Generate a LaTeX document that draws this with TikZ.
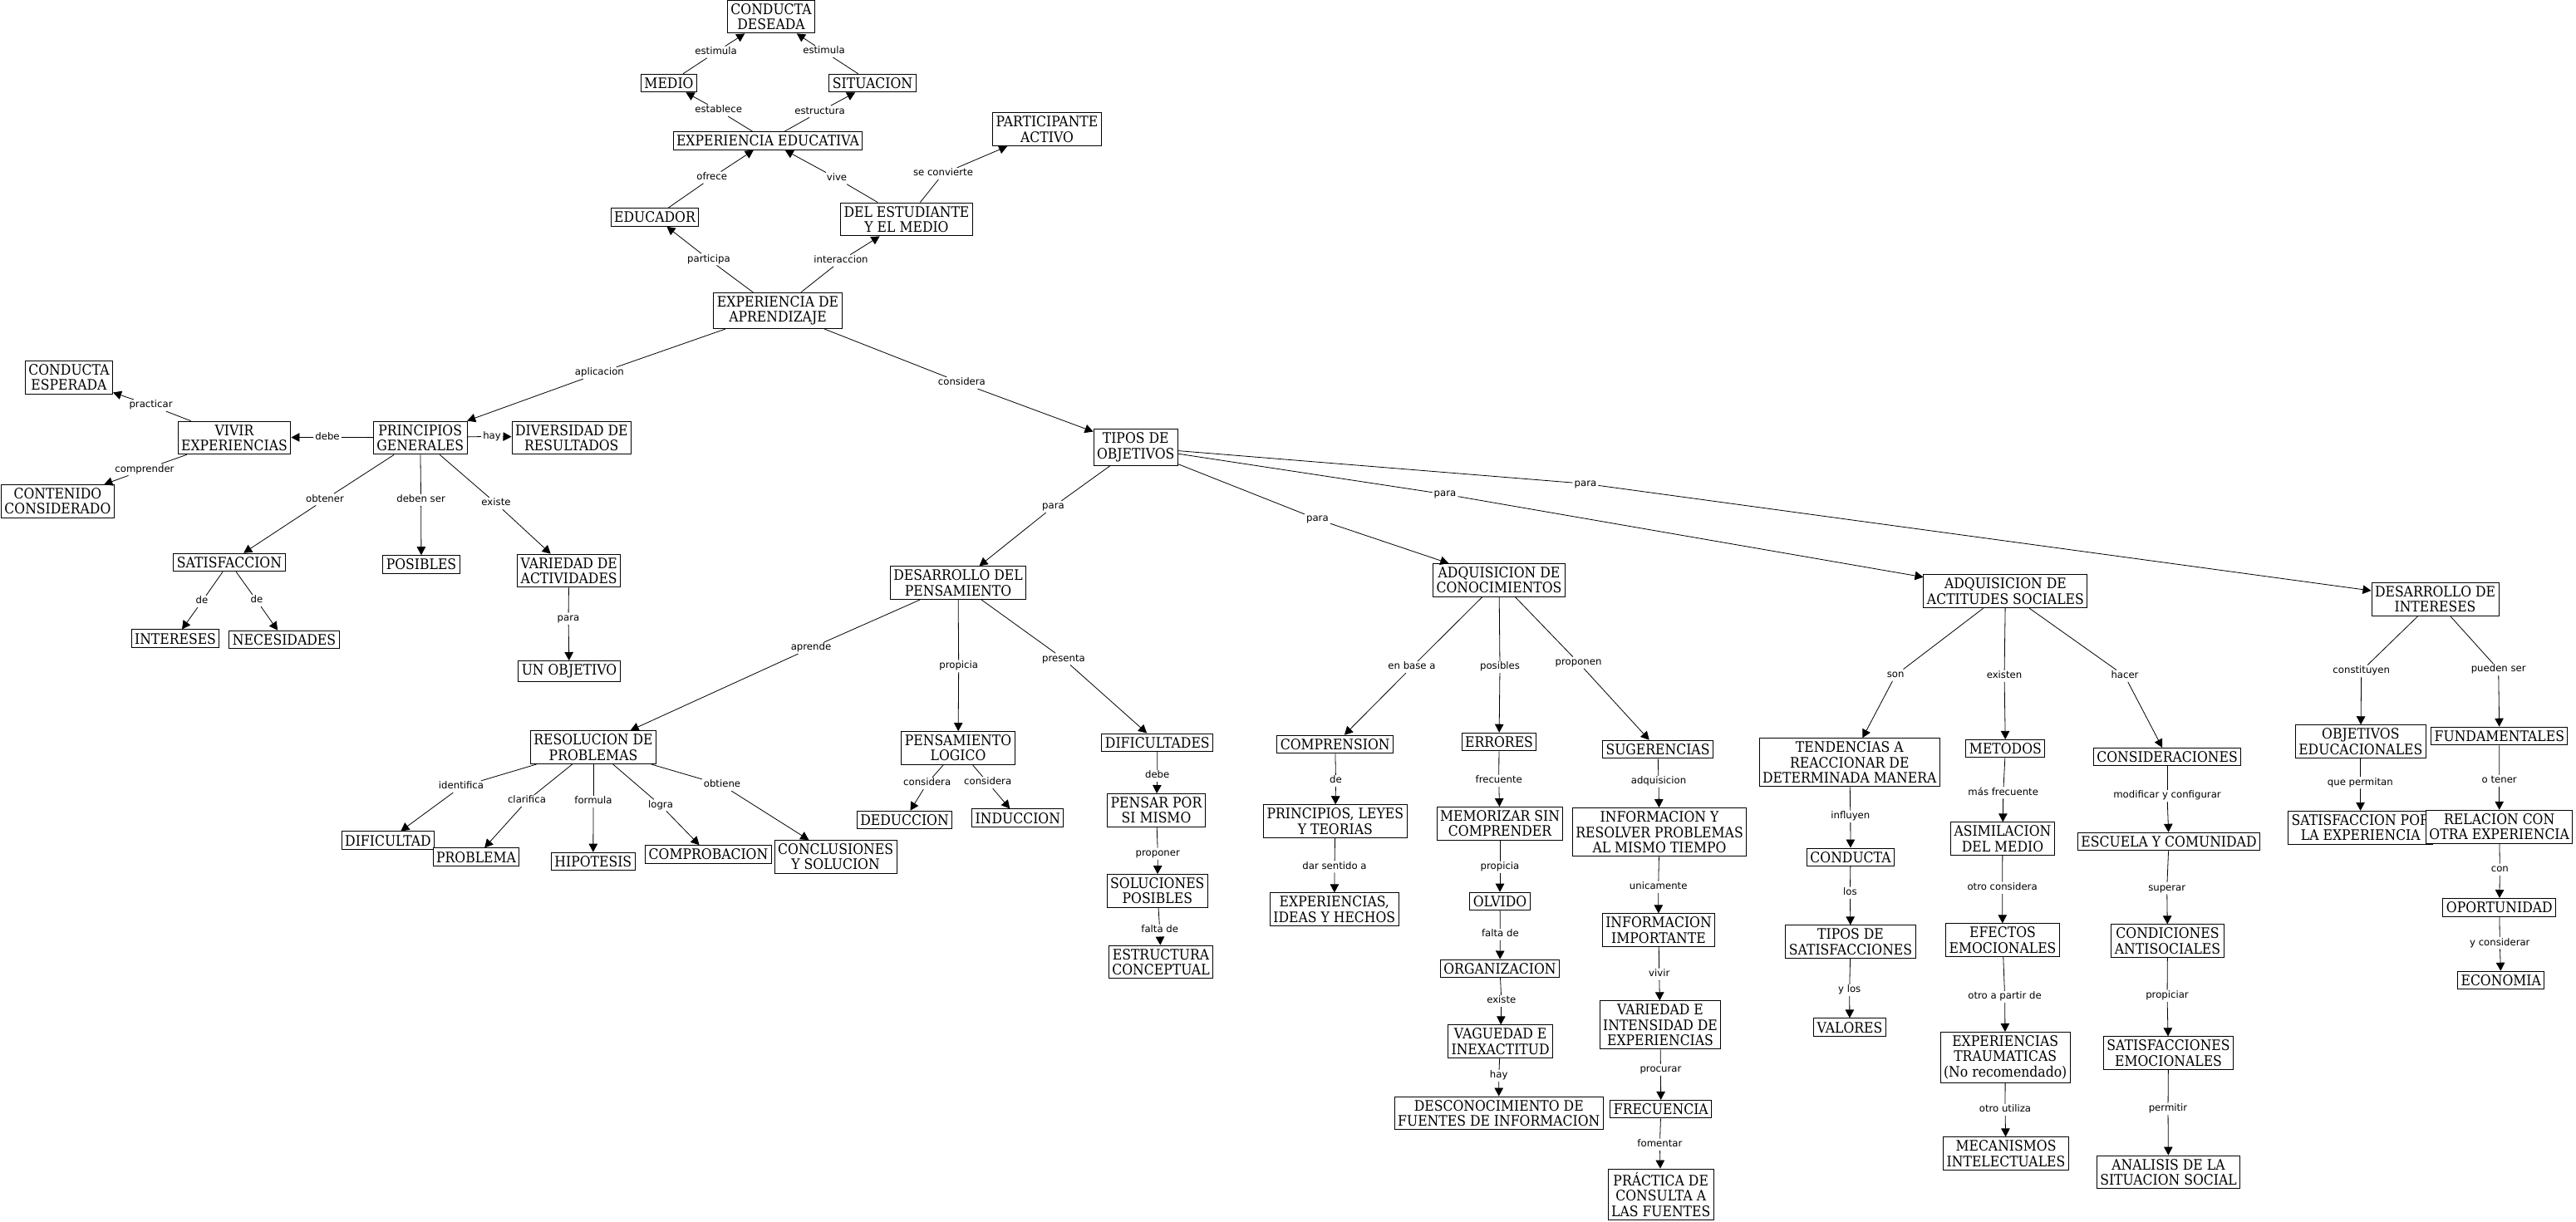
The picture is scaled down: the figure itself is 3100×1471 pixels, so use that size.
\documentclass[tikz,border=0pt]{standalone}
\usepackage{fontspec}
\usetikzlibrary{arrows.meta}
\newfontfamily\nodefont{DejaVu Serif}[FakeStretch=0.9]
\newfontfamily\labfont{DejaVu Sans}
\newcommand\cmlink[3]{\draw[cln] (#1) -- (#2); \draw[carr] (#2) -- (#3);}
\tikzset{
  cbox/.style={draw=black, line width=1pt, fill=white, align=center,
    inner xsep=4pt, inner ysep=4.2pt,
    font=\nodefont\fontsize{17.4}{18.3}\selectfont},
  clab/.style={inner xsep=2pt, inner ysep=1.5pt, text height=8.2pt, text depth=2.6pt,
    font=\labfont\fontsize{11.7}{13}\selectfont},
  cln/.style={line width=0.8pt, black},
  carr/.style={line width=0.8pt, black, -{Triangle[length=10pt,width=10.5pt]}}
}
\begin{document}
\begin{tikzpicture}[x=1pt,y=-1pt]
\useasboundingbox[fill=white] (0,0) rectangle (3100,1471);
% ---------- concepts ----------
\node[cbox] (cd) at (928,20) {CONDUCTA\\DESEADA};
\node[cbox] (medio) at (805,100) {MEDIO};
\node[cbox] (sit) at (1050,100) {SITUACION};
\node[cbox] (expedu) at (924,169.5) {EXPERIENCIA EDUCATIVA};
\node[cbox] (partic) at (1260,155.7) {PARTICIPANTE\\ACTIVO};
\node[cbox] (educ) at (788,261.5) {EDUCADOR};
\node[cbox] (delest) at (1091,264) {DEL ESTUDIANTE\\Y EL MEDIO};
\node[cbox] (expap) at (936,374) {EXPERIENCIA DE\\APRENDIZAJE};
\node[cbox] (cesp) at (83,454.5) {CONDUCTA\\ESPERADA};
\node[cbox] (vivir) at (282,527) {VIVIR\\EXPERIENCIAS};
\node[cbox] (princ) at (505.7,527) {PRINCIPIOS\\GENERALES};
\node[cbox] (divers) at (687.8,527) {DIVERSIDAD DE\\RESULTADOS};
\node[cbox] (conten) at (69.4,603.5) {CONTENIDO\\CONSIDERADO};
\node[cbox] (satis) at (276,677) {SATISFACCION};
\node[cbox] (posib) at (507,679.5) {POSIBLES};
\node[cbox] (varact) at (684.7,687) {VARIEDAD DE\\ACTIVIDADES};
\node[cbox] (inter) at (211,768.7) {INTERESES};
\node[cbox] (neces) at (342,770) {NECESIDADES};
\node[cbox] (unobj) at (685,808) {UN OBJETIVO};
\node[cbox] (tipos) at (1366.7,538.5) {TIPOS DE\\OBJETIVOS};
\node[cbox] (despens) at (1153,701.7) {DESARROLLO DEL\\PENSAMIENTO};
\node[cbox] (resol) at (714,899.6) {RESOLUCION DE\\PROBLEMAS};
\node[cbox] (dific) at (467,1011.7) {DIFICULTAD};
\node[cbox] (probl) at (573,1031.7) {PROBLEMA};
\node[cbox] (hipot) at (713.8,1037) {HIPOTESIS};
\node[cbox] (compr) at (852.5,1028.5) {COMPROBACION};
\node[cbox] (concl) at (1005.6,1031.5) {CONCLUSIONES\\Y SOLUCION};
\node[cbox] (penslog) at (1153,900.5) {PENSAMIENTO\\LOGICO};
\node[cbox] (deduc) at (1088.5,987) {DEDUCCION};
\node[cbox] (induc) at (1224.8,984.7) {INDUCCION};
\node[cbox] (dificu) at (1392.8,893.8) {DIFICULTADES};
\node[cbox] (pensar) at (1391.5,975.5) {PENSAR POR\\SI MISMO};
\node[cbox] (soluc) at (1392.8,1072.5) {SOLUCIONES\\POSIBLES};
\node[cbox] (estruc) at (1397,1158) {ESTRUCTURA\\CONCEPTUAL};
\node[cbox] (adqcon) at (1804,698.5) {ADQUISICION DE\\CONOCIMIENTOS};
\node[cbox] (compren) at (1606.7,896) {COMPRENSION};
\node[cbox] (errores) at (1804,893) {ERRORES};
\node[cbox] (suger) at (1995,902) {SUGERENCIAS};
\node[cbox] (pley) at (1606.8,988.7) {PRINCIPIOS, LEYES\\Y TEORIAS};
\node[cbox] (expid) at (1605.8,1094.8) {EXPERIENCIAS,\\IDEAS Y HECHOS};
\node[cbox] (memor) at (1805,991.5) {MEMORIZAR SIN\\COMPRENDER};
\node[cbox] (olvido) at (1805,1085) {OLVIDO};
\node[cbox] (organ) at (1805,1165.8) {ORGANIZACION};
\node[cbox] (vague) at (1805.6,1253.8) {VAGUEDAD E\\INEXACTITUD};
\node[cbox] (descon) at (1803.8,1340) {DESCONOCIMIENTO DE\\FUENTES DE INFORMACION};
\node[cbox] (infores) at (1997,1001.7) {INFORMACION Y\\RESOLVER PROBLEMAS\\AL MISMO TIEMPO};
\node[cbox] (infoimp) at (1996,1119.8) {INFORMACION\\IMPORTANTE};
\node[cbox] (varint) at (1998,1233.8) {VARIEDAD E\\INTENSIDAD DE\\EXPERIENCIAS};
\node[cbox] (frec) at (1998.8,1335.2) {FRECUENCIA};
\node[cbox] (pract) at (1998.7,1437.8) {PRÁCTICA DE\\CONSULTA A\\LAS FUENTES};
\node[cbox] (adqact) at (2413.4,711.8) {ADQUISICION DE\\ACTITUDES SOCIALES};
\node[cbox] (tend) at (2225.8,917.8) {TENDENCIAS A\\REACCIONAR DE\\DETERMINADA MANERA};
\node[cbox] (metod) at (2413.4,901.2) {METODOS};
\node[cbox] (consid) at (2608,911.2) {CONSIDERACIONES};
\node[cbox] (conduc) at (2227,1031.8) {CONDUCTA};
\node[cbox] (asim) at (2410,1009.8) {ASIMILACION\\DEL MEDIO};
\node[cbox] (escuela) at (2610,1013) {ESCUELA Y COMUNIDAD};
\node[cbox] (tiposat) at (2227,1133.8) {TIPOS DE\\SATISFACCIONES};
\node[cbox] (valores) at (2226,1236.7) {VALORES};
\node[cbox] (efectos) at (2410,1131.8) {EFECTOS\\EMOCIONALES};
\node[cbox] (exptr) at (2413.2,1272.8) {EXPERIENCIAS\\TRAUMATICAS\\(No recomendado)};
\node[cbox] (mecan) at (2414,1388.8) {MECANISMOS\\INTELECTUALES};
\node[cbox] (condic) at (2608.5,1132.8) {CONDICIONES\\ANTISOCIALES};
\node[cbox] (satemo) at (2609.5,1267.8) {SATISFACCIONES\\EMOCIONALES};
\node[cbox] (analis) at (2609.5,1411) {ANALISIS DE LA\\SITUACION SOCIAL};
\node[cbox] (desint) at (2930.5,721.5) {DESARROLLO DE\\INTERESES};
\node[cbox] (objed) at (2840.8,892.7) {OBJETIVOS\\EDUCACIONALES};
\node[cbox] (fund) at (3007.8,886) {FUNDAMENTALES};
\node[cbox] (satpor) at (2840.8,996.3) {SATISFACCION POR\\LA EXPERIENCIA};
\node[cbox] (relac) at (3007.7,995.2) {RELACION CON\\OTRA EXPERIENCIA};
\node[cbox] (oport) at (3007.8,1092.3) {OPORTUNIDAD};
\node[cbox] (econ) at (3009.7,1180) {ECONOMIA};
% ---------- linking phrases ----------
\node[clab] (l1) at (861.6,62.7) {estimula};
\node[clab] (l2) at (991.5,62) {estimula};
\node[clab] (l3) at (864.7,133) {establece};
\node[clab] (l4) at (986.6,134.3) {estructura};
\node[clab] (l5) at (856.7,213.7) {ofrece};
\node[clab] (l6) at (1007,214.7) {vive};
\node[clab] (l7) at (1135,209) {se convierte};
\node[clab] (l8) at (853,312.3) {participa};
\node[clab] (l9) at (1012,313.7) {interaccion};
\node[clab] (l10) at (721.4,449) {aplicacion};
\node[clab] (l11) at (1157.4,461) {considera};
\node[clab] (l12) at (181.6,488) {practicar};
\node[clab] (l13) at (174,565.3) {comprender};
\node[clab] (l14) at (394,526.3) {debe};
\node[clab] (l15) at (592,525.3) {hay};
\node[clab] (l16) at (391,601.3) {obtener};
\node[clab] (l17) at (506.6,602) {deben ser};
\node[clab] (l18) at (597,606) {existe};
\node[clab] (l19) at (243,724) {de};
\node[clab] (l20) at (309,723) {de};
\node[clab] (l21) at (684,744.7) {para};
\node[clab] (l22) at (1267.5,610) {para};
\node[clab] (l23) at (1585.4,625) {para};
\node[clab] (l24) at (1739,595) {para};
\node[clab] (l25) at (1908,582.3) {para};
\node[clab] (l26) at (976,780) {aprende};
\node[clab] (l27) at (1153.7,802) {propicia};
\node[clab] (l28) at (1280,793.3) {presenta};
\node[clab] (l29) at (555,947) {identifica};
\node[clab] (l30) at (634,964) {clarifica};
\node[clab] (l31) at (714,965) {formula};
\node[clab] (l32) at (795,969.3) {logra};
\node[clab] (l33) at (869,945) {obtiene};
\node[clab] (l34) at (1115.7,943) {considera};
\node[clab] (l35) at (1188.7,942) {considera};
\node[clab] (l36) at (1392.7,934) {debe};
\node[clab] (l37) at (1393.3,1027.7) {proponer};
\node[clab] (l38) at (1395.7,1120) {falta de};
\node[clab] (l39) at (1699,803) {en base a};
\node[clab] (l40) at (1805,803) {posibles};
\node[clab] (l41) at (1899.6,797.7) {proponen};
\node[clab] (l42) at (1607.5,940) {de};
\node[clab] (l43) at (1606,1043.3) {dar sentido a};
\node[clab] (l44) at (1803.7,940) {frecuente};
\node[clab] (l45) at (1805,1044) {propicia};
\node[clab] (l46) at (1805.4,1125) {falta de};
\node[clab] (l47) at (1806.8,1205) {existe};
\node[clab] (l48) at (1803.7,1295) {hay};
\node[clab] (l49) at (1996,941) {adquisicion};
\node[clab] (l50) at (1995.7,1067.7) {unicamente};
\node[clab] (l51) at (1996.7,1172.7) {vivir};
\node[clab] (l52) at (1998.4,1287.7) {procurar};
\node[clab] (l53) at (1997.4,1377.7) {fomentar};
\node[clab] (l54) at (2281.2,812.7) {son};
\node[clab] (l55) at (2412,813.7) {existen};
\node[clab] (l56) at (2557,813.7) {hacer};
\node[clab] (l57) at (2226.8,982.7) {influyen};
\node[clab] (l58) at (2226.4,1074.7) {los};
\node[clab] (l59) at (2225.7,1192) {y los};
\node[clab] (l60) at (2410.7,954.3) {más frecuente};
\node[clab] (l61) at (2409.6,1068.7) {otro considera};
\node[clab] (l62) at (2412.6,1200) {otro a partir de};
\node[clab] (l63) at (2413,1336) {otro utiliza};
\node[clab] (l64) at (2608,957.7) {modificar y configurar};
\node[clab] (l65) at (2607.7,1069.3) {superar};
\node[clab] (l66) at (2608,1199) {propiciar};
\node[clab] (l67) at (2609,1335) {permitir};
\node[clab] (l68) at (2841.7,807.7) {constituyen};
\node[clab] (l69) at (3006.7,806) {pueden ser};
\node[clab] (l70) at (2840.3,942.3) {que permitan};
\node[clab] (l71) at (3007.7,940) {o tener};
\node[clab] (l72) at (3008.3,1046.7) {con};
\node[clab] (l73) at (3008.3,1135.3) {y considerar};
% ---------- connectors ----------
\cmlink{medio}{l1}{cd}
\cmlink{sit}{l2}{cd}
\cmlink{expedu}{l3}{medio}
\cmlink{expedu}{l4}{sit}
\cmlink{educ}{l5}{expedu}
\cmlink{delest}{l6}{expedu}
\cmlink{delest}{l7}{partic}
\cmlink{expap}{l8}{educ}
\cmlink{expap}{l9}{delest}
\cmlink{expap}{l10}{princ}
\cmlink{expap}{l11}{tipos}
\cmlink{vivir}{l12}{cesp}
\cmlink{vivir}{l13}{conten}
\cmlink{princ}{l14}{vivir}
\cmlink{princ}{l15}{divers}
\cmlink{princ}{l16}{satis}
\cmlink{princ}{l17}{posib}
\cmlink{princ}{l18}{varact}
\cmlink{satis}{l19}{inter}
\cmlink{satis}{l20}{neces}
\cmlink{varact}{l21}{unobj}
\cmlink{tipos}{l22}{despens}
\cmlink{tipos}{l23}{adqcon}
\cmlink{tipos}{l24}{adqact}
\cmlink{tipos}{l25}{desint}
\cmlink{despens}{l26}{resol}
\cmlink{despens}{l27}{penslog}
\cmlink{despens}{l28}{dificu}
\cmlink{resol}{l29}{dific}
\cmlink{resol}{l30}{probl}
\cmlink{resol}{l31}{hipot}
\cmlink{resol}{l32}{compr}
\cmlink{resol}{l33}{concl}
\cmlink{penslog}{l34}{deduc}
\cmlink{penslog}{l35}{induc}
\cmlink{dificu}{l36}{pensar}
\cmlink{pensar}{l37}{soluc}
\cmlink{soluc}{l38}{estruc}
\cmlink{adqcon}{l39}{compren}
\cmlink{adqcon}{l40}{errores}
\cmlink{adqcon}{l41}{suger}
\cmlink{compren}{l42}{pley}
\cmlink{pley}{l43}{expid}
\cmlink{errores}{l44}{memor}
\cmlink{memor}{l45}{olvido}
\cmlink{olvido}{l46}{organ}
\cmlink{organ}{l47}{vague}
\cmlink{vague}{l48}{descon}
\cmlink{suger}{l49}{infores}
\cmlink{infores}{l50}{infoimp}
\cmlink{infoimp}{l51}{varint}
\cmlink{varint}{l52}{frec}
\cmlink{frec}{l53}{pract}
\cmlink{adqact}{l54}{tend}
\cmlink{adqact}{l55}{metod}
\cmlink{adqact}{l56}{consid}
\cmlink{tend}{l57}{conduc}
\cmlink{conduc}{l58}{tiposat}
\cmlink{tiposat}{l59}{valores}
\cmlink{metod}{l60}{asim}
\cmlink{asim}{l61}{efectos}
\cmlink{efectos}{l62}{exptr}
\cmlink{exptr}{l63}{mecan}
\cmlink{consid}{l64}{escuela}
\cmlink{escuela}{l65}{condic}
\cmlink{condic}{l66}{satemo}
\cmlink{satemo}{l67}{analis}
\cmlink{desint}{l68}{objed}
\cmlink{desint}{l69}{fund}
\cmlink{objed}{l70}{satpor}
\cmlink{fund}{l71}{relac}
\cmlink{relac}{l72}{oport}
\cmlink{oport}{l73}{econ}
\end{tikzpicture}
\end{document}
